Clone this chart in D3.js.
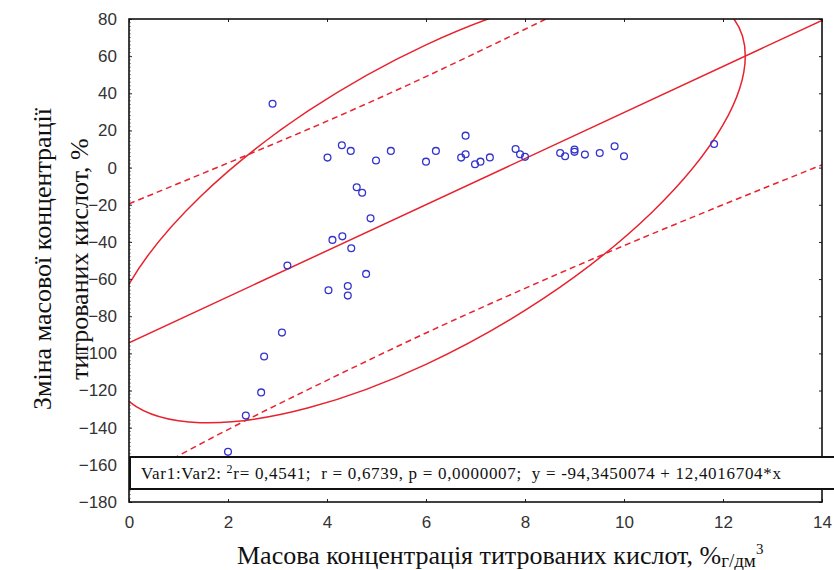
<!DOCTYPE html>
<html>
<head>
<meta charset="utf-8">
<script src="https://cdn.jsdelivr.net/npm/d3@7"></script>
<style>
  body { margin: 0; background: #fff; }
</style>
</head>
<body>
<script>
// values
const xVals = [2.0, 2.36, 2.67, 2.73, 3.09, 2.9, 3.2, 4.11, 4.31, 4.49, 4.79, 4.03, 4.42, 4.42,
  4.01, 4.3, 4.48, 4.99, 5.29, 4.6, 4.71, 4.88, 6.0, 6.2, 6.8, 6.71, 6.8, 6.99, 7.1, 7.29,
  7.81, 7.9, 8.0, 8.71, 8.81, 9.0, 9.0, 9.21, 9.51, 9.81, 10.0, 11.82];
const yVals = [-153, -133.5, -121, -101.7, -88.8, 34.4, -52.7, -38.9, -37, -43.4, -57.2, -66, -63.7, -68.9,
  5.4, 12, 9, 3.8, 9, -10.6, -13.5, -27.3, 3.2, 9, 17.2, 5.4, 7.2, 1.8, 3.2, 5.5,
  10, 7.2, 5.8, 7.9, 6.1, 9.7, 8.5, 7.0, 7.9, 11.5, 6.1, 12.7];

const xTicks = [0, 2, 4, 6, 8, 10, 12, 14];
const yTicks = [80, 60, 40, 20, 0, -20, -40, -60, -80, -100, -120, -140, -160, -180];

// regression y = a + b*x
const regCoef = [-94.3450074, 12.4016704];

// 95% bands, read at the x ticks
const bandX = [0, 2, 4, 6, 8, 10, 12, 14];
const bandUpper = [-19.5, 2.5, 25, 49, 74.5, 101, 129.5, 158.5];
const bandLower = [-169.5, -141, -114.5, -89, -65, -42, -20, 1.5];

// ellipse: centre (x, y), half width in x, half vertical chord at centre
const ellipseCenter = [6.0, -19.9];
const ellipseRadii = [6.45, 86];

const statsText = 'r= 0,4541;  r = 0,6739, p = 0,0000007;  y = -94,3450074 + 12,4016704*x';

const W = 834, H = 570;
const pLeft = 129, pRight = 822, pTop = 19, pBottom = 502;
const red = '#e8222e';
const blue = '#3333cc';
const serif = '"Liberation Serif", "Times New Roman", serif';

const svg = d3.select('body').append('svg')
  .attr('width', W)
  .attr('height', H);

const x = d3.scaleLinear().domain([0, 14]).range([pLeft, pRight]);
const y = d3.scaleLinear().domain([-180, 80]).range([pBottom, pTop]);

svg.append('clipPath').attr('id', 'plot')
  .append('rect')
  .attr('x', pLeft).attr('y', pTop)
  .attr('width', pRight - pLeft).attr('height', pBottom - pTop);

const plot = svg.append('g').attr('clip-path', 'url(#plot)');

// regression line
plot.append('line')
  .attr('x1', x(0)).attr('y1', y(regCoef[0]))
  .attr('x2', x(14)).attr('y2', y(regCoef[0] + regCoef[1] * 14))
  .attr('stroke', red).attr('stroke-width', 1.5);

// dashed bands
const bandLine = d3.line().curve(d3.curveNatural)
  .x(d => x(d[0])).y(d => y(d[1]));
[bandUpper, bandLower].forEach(b => {
  plot.append('path')
    .attr('d', bandLine(bandX.map((v, i) => [v, b[i]])))
    .attr('fill', 'none')
    .attr('stroke', red)
    .attr('stroke-width', 1.5)
    .attr('stroke-dasharray', '6,4');
});

// ellipse as a transformed unit circle
const ex = x(ellipseCenter[0]), ey = y(ellipseCenter[1]);
const m = [
  x(ellipseCenter[0] + ellipseRadii[0]) - ex,
  y(ellipseCenter[1] + regCoef[1] * ellipseRadii[0]) - ey,
  0,
  y(ellipseCenter[1] + ellipseRadii[1]) - ey
];
plot.append('circle')
  .attr('r', 1)
  .attr('transform', `matrix(${m[0]},${m[1]},${m[2]},${m[3]},${ex},${ey})`)
  .attr('fill', 'none')
  .attr('stroke', red)
  .attr('stroke-width', 1.5)
  .attr('vector-effect', 'non-scaling-stroke');

// points
plot.selectAll('circle.dot')
  .data(xVals.map((v, i) => [v, yVals[i]]))
  .enter()
  .append('circle')
  .attr('class', 'dot')
  .attr('cx', d => x(d[0]))
  .attr('cy', d => y(d[1]))
  .attr('r', 3.4)
  .attr('fill', 'none')
  .attr('stroke', blue)
  .attr('stroke-width', 1.3);

// axes
function styleAxis(g) {
  g.select('.domain').remove();
  g.selectAll('.tick line').attr('stroke', '#222');
  g.selectAll('.tick text')
    .attr('fill', '#333')
    .style('font-family', '"Liberation Sans", Arial, sans-serif')
    .style('font-size', '17px');
}

svg.append('g')
  .attr('transform', `translate(${pLeft},0)`)
  .call(d3.axisLeft(y).tickValues(yTicks).tickSize(-3).tickPadding(12))
  .call(styleAxis);

// minor ticks on the left axis
svg.append('g')
  .selectAll('line')
  .data(d3.range(-180, 81, 2))
  .enter()
  .append('line')
  .attr('x1', pLeft).attr('x2', pLeft + 2)
  .attr('y1', d => y(d)).attr('y2', d => y(d))
  .attr('stroke', '#666').attr('stroke-width', 0.7);

svg.append('g')
  .attr('transform', `translate(0,${pBottom})`)
  .call(d3.axisBottom(x).tickValues(xTicks).tickSize(-3).tickPadding(14))
  .call(styleAxis);

svg.append('g')
  .attr('transform', `translate(0,${pTop})`)
  .call(d3.axisTop(x).tickValues(xTicks).tickSize(-3).tickFormat(''))
  .call(styleAxis);

svg.append('g')
  .attr('transform', `translate(${pRight},0)`)
  .call(d3.axisRight(y).tickValues(yTicks).tickSize(-3).tickFormat(''))
  .call(styleAxis);

// frame
svg.append('rect')
  .attr('x', pLeft).attr('y', pTop)
  .attr('width', pRight - pLeft).attr('height', pBottom - pTop)
  .attr('fill', 'none')
  .attr('stroke', '#111')
  .attr('stroke-width', 1.6);

// stats box
svg.append('rect')
  .attr('x', 130).attr('y', 457)
  .attr('width', 720).attr('height', 32)
  .attr('fill', '#fff')
  .attr('stroke', '#111')
  .attr('stroke-width', 2);

const st = svg.append('text')
  .attr('x', 141).attr('y', 479)
  .attr('xml:space', 'preserve')
  .style('font-family', serif)
  .style('font-size', '17px')
  .style('letter-spacing', '0.7px')
  .attr('fill', '#111');
st.append('tspan').text('Var1:Var2: ');
st.append('tspan').attr('dy', -6).style('font-size', '12px').text('2');
st.append('tspan').attr('dy', 6).text(statsText);

// axis titles
const yl = svg.append('text')
  .attr('transform', 'translate(0,259) rotate(-90)')
  .attr('text-anchor', 'middle')
  .style('font-family', serif)
  .style('font-size', '26px')
  .attr('fill', '#111');
yl.append('tspan').attr('x', 0).attr('y', 51).text('Зміна масової концентрації');
yl.append('tspan').attr('x', 0).attr('y', 88).text('титрованих кислот, %');

const xl = svg.append('text')
  .attr('x', 237).attr('y', 564)
  .style('font-family', serif)
  .style('font-size', '26px')
  .attr('fill', '#111');
xl.append('tspan').text('Масова концентрація титрованих кислот, %');
xl.append('tspan').attr('dy', 3).style('font-size', '19px').text('г/дм');
xl.append('tspan').attr('dy', -13).style('font-size', '15px').text('3');
</script>
</body>
</html>
